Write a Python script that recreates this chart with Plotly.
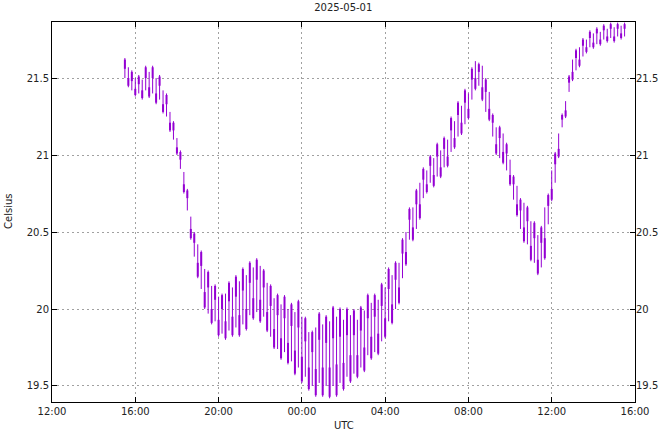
import pandas as pd
import plotly.graph_objects as go

start_time = "2025-04-30 15:30"
interval = "10min"

highs = [21.63,21.57,21.55,21.50,21.52,21.49,21.58,21.54,21.58,21.50,
         21.52,21.42,21.40,21.28,21.22,21.11,21.03,20.89,20.78,20.60,
         20.50,20.42,20.38,20.26,20.25,20.15,20.16,20.08,20.10,20.10,
         20.18,20.14,20.22,20.18,20.27,20.22,20.31,20.27,20.33,20.28,
         20.26,20.17,20.16,20.07,20.10,20.03,20.09,20.00,20.04,19.98,
         20.06,19.95,19.95,19.85,19.86,19.88,19.98,19.90,19.96,19.92,
         20.02,19.95,20.01,19.93,20.01,19.96,20.00,19.93,20.02,19.99,
         20.10,20.04,20.10,20.06,20.17,20.14,20.27,20.22,20.31,20.30,
         20.46,20.50,20.66,20.66,20.78,20.82,20.92,20.90,21.00,20.98,
         21.08,21.03,21.12,21.10,21.25,21.22,21.35,21.32,21.43,21.40,
         21.57,21.61,21.60,21.58,21.50,21.41,21.27,21.18,21.19,21.14,
         21.08,20.97,20.87,20.80,20.72,20.69,20.67,20.57,20.57,20.48,
         20.54,20.66,20.75,20.90,21.02,21.14,21.27,21.35,21.52,21.62,
         21.69,21.70,21.76,21.75,21.81,21.79,21.83,21.80,21.85,21.82,
         21.86,21.83,21.86,21.84,21.86]
lows = [21.50,21.44,21.42,21.38,21.40,21.36,21.42,21.37,21.40,21.33,
        21.36,21.27,21.25,21.15,21.10,21.00,20.91,20.75,20.64,20.45,
        20.34,20.20,20.13,20.00,19.97,19.90,19.92,19.82,19.84,19.80,
        19.86,19.82,19.88,19.82,19.90,19.86,19.96,19.93,19.98,19.91,
        19.95,19.85,19.82,19.74,19.74,19.67,19.72,19.64,19.66,19.57,
        19.62,19.52,19.56,19.47,19.50,19.43,19.52,19.43,19.50,19.42,
        19.50,19.43,19.52,19.47,19.56,19.52,19.58,19.55,19.62,19.59,
        19.70,19.67,19.72,19.70,19.79,19.81,19.92,19.90,20.00,20.03,
        20.20,20.28,20.45,20.44,20.52,20.58,20.72,20.75,20.82,20.79,
        20.86,20.85,20.92,20.92,21.02,21.04,21.12,21.13,21.20,21.23,
        21.36,21.42,21.45,21.35,21.28,21.22,21.12,21.00,20.98,20.94,
        20.90,20.80,20.71,20.60,20.52,20.43,20.42,20.31,20.30,20.22,
        20.27,20.32,20.55,20.70,20.82,20.98,21.18,21.24,21.41,21.48,
        21.55,21.57,21.64,21.66,21.70,21.69,21.72,21.71,21.75,21.73,
        21.76,21.73,21.77,21.75,21.77]
opens = [21.56,21.50,21.48,21.43,21.46,21.42,21.50,21.44,21.50,21.40,
         21.45,21.33,21.33,21.21,21.16,21.05,20.97,20.81,20.72,20.52,
         20.43,20.30,20.28,20.11,20.14,20.00,20.06,19.93,20.00,19.92,
         20.05,19.95,20.08,19.96,20.12,20.00,20.17,20.07,20.19,20.06,
         20.14,19.98,20.02,19.87,19.96,19.81,19.94,19.78,19.89,19.73,
         19.88,19.69,19.79,19.62,19.72,19.61,19.80,19.62,19.78,19.62,
         19.81,19.64,19.82,19.65,19.83,19.70,19.83,19.70,19.86,19.75,
         19.94,19.82,19.95,19.84,20.02,19.94,20.13,20.03,20.19,20.14,
         20.36,20.37,20.58,20.53,20.68,20.68,20.84,20.81,20.93,20.87,
         20.99,20.92,21.04,20.99,21.16,21.11,21.26,21.21,21.34,21.30,
         21.49,21.50,21.54,21.44,21.41,21.30,21.21,21.07,21.11,21.02,
         21.01,20.87,20.81,20.68,20.64,20.53,20.57,20.41,20.46,20.32,
         20.43,20.46,20.67,20.78,20.94,21.04,21.23,21.29,21.47,21.54,
         21.63,21.62,21.71,21.70,21.76,21.73,21.79,21.75,21.81,21.77,
         21.82,21.77,21.82,21.79,21.82]
closes = [21.62,21.45,21.54,21.39,21.51,21.37,21.57,21.38,21.57,21.34,
          21.51,21.28,21.39,21.16,21.21,21.01,21.02,20.76,20.77,20.46,
          20.49,20.21,20.37,20.01,20.24,19.91,20.15,19.83,20.09,19.81,
          20.17,19.83,20.21,19.83,20.26,19.87,20.30,19.94,20.32,19.92,
          20.25,19.86,20.15,19.75,20.09,19.68,20.08,19.65,20.03,19.58,
          20.05,19.53,19.94,19.48,19.85,19.44,19.97,19.44,19.95,19.43,
          20.01,19.44,20.00,19.48,20.00,19.53,19.99,19.56,20.01,19.60,
          20.09,19.68,20.09,19.71,20.16,19.82,20.26,19.91,20.30,20.04,
          20.45,20.29,20.65,20.45,20.77,20.59,20.91,20.76,20.99,20.80,
          21.07,20.86,21.11,20.93,21.24,21.05,21.34,21.14,21.42,21.24,
          21.56,21.43,21.59,21.36,21.49,21.23,21.26,21.01,21.18,20.95,
          21.07,20.81,20.86,20.61,20.71,20.44,20.66,20.32,20.56,20.23,
          20.53,20.33,20.74,20.71,21.01,20.99,21.26,21.25,21.51,21.49,
          21.68,21.58,21.75,21.67,21.80,21.70,21.82,21.72,21.84,21.74,
          21.85,21.74,21.85,21.76,21.85]

x_range = ["2025-04-30 12:00", "2025-05-01 16:00"]
y_ticks = [19.5, 20, 20.5, 21, 21.5]
y_tick_labels = ["19.5", "20", "20.5", "21", "21.5"]
y_range = [19.396, 21.864]

times = pd.date_range(start=start_time, periods=len(highs), freq=interval)

# build segment lists (low-high whiskers, open-close bodies) from the data
wx, wy, bx, by = [], [], [], []
for t, lo, hi, op, cl in zip(times, lows, highs, opens, closes):
    wx += [t, t, None]
    wy += [lo, hi, None]
    bx += [t, t, None]
    by += [op, cl, None]

purple = "#9400d3"
fig = go.Figure()
fig.add_trace(go.Scatter(x=wx, y=wy, mode="lines", line=dict(color=purple, width=1),
                         showlegend=False, hoverinfo="skip"))
fig.add_trace(go.Scatter(x=bx, y=by, mode="lines", line=dict(color=purple, width=2),
                         showlegend=False, hoverinfo="skip"))
fig.add_trace(go.Scatter(x=[times[0]], y=[None], yaxis="y2", showlegend=False,
                         hoverinfo="skip"))

font = dict(family="DejaVu Sans", size=10, color="#222222")
grid = dict(showgrid=True, gridcolor="#a0a0a0", griddash="2px,3px", gridwidth=1)

fig.update_layout(
    width=664, height=432,
    margin=dict(l=52, r=29, t=22, b=30),
    paper_bgcolor="white", plot_bgcolor="white",
    font=font,
    title=dict(text="2025-05-01", x=0.517, xanchor="center", y=0.99, yanchor="top",
               font=dict(size=10)),
    xaxis=dict(type="date", range=x_range, dtick=4 * 3600 * 1000, tickformat="%H:%M",
               tick0="2025-04-30 12:00", automargin=False,
               ticks="inside", ticklen=5, tickcolor="black", showline=True,
               linecolor="black", linewidth=1, mirror="ticks",
               zeroline=False, **grid),
    yaxis=dict(range=y_range, tickvals=y_ticks, ticktext=y_tick_labels, automargin=False,
               ticks="inside", ticklen=5, tickcolor="black", showline=True,
               linecolor="black", linewidth=1, mirror="ticks", zeroline=False, **grid),
    yaxis2=dict(range=y_range, tickvals=y_ticks, ticktext=y_tick_labels, automargin=False,
                overlaying="y", side="right", ticks="inside", ticklen=5,
                tickcolor="black", showgrid=False, zeroline=False, showline=False),
    annotations=[
        dict(text="Celsius", x=(8 - 52) / 583, y=0.5, xref="paper", yref="paper",
             showarrow=False, textangle=-90, xanchor="center", yanchor="middle",
             font=dict(size=10)),
        dict(text="UTC", x=0.5, y=-0.043, xref="paper", yref="paper", showarrow=False,
             xanchor="center", yanchor="top", font=dict(size=10)),
    ],
)

fig.write_html("out.html", config={"displayModeBar": False},
               post_script="document.body.style.margin='0';")
